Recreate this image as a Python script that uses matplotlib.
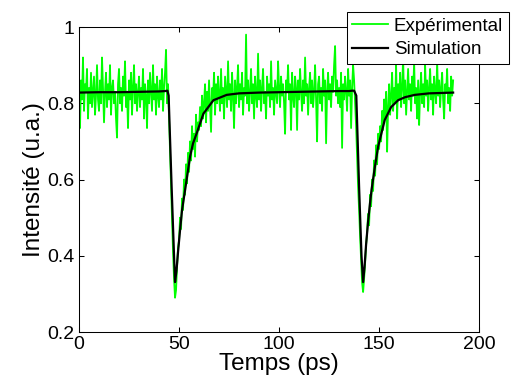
import numpy as np
import matplotlib
matplotlib.use("Agg")
import matplotlib.pyplot as plt

plt.rcParams['font.family'] = ['Liberation Sans', 'DejaVu Sans']

# measured signal, one sample every 0.5 ps starting at 0 ps
dt = 0.5
experimental = [
    0.80, 0.735, 0.86, 0.81, 0.92, 0.78, 0.85, 0.83, 0.89, 0.76, 0.84, 0.80, 0.88, 0.79, 0.83, 0.87, 0.77, 0.82, 0.90, 0.81,
    0.78, 0.86, 0.80, 0.92, 0.84, 0.75, 0.83, 0.88, 0.79, 0.85, 0.81, 0.90, 0.77, 0.84, 0.86, 0.80, 0.83, 0.76, 0.71, 0.85,
    0.89, 0.80, 0.84, 0.78, 0.87, 0.82, 0.91, 0.79, 0.83, 0.735, 0.86, 0.81, 0.88, 0.77, 0.84, 0.90, 0.80, 0.85, 0.78, 0.83,
    0.87, 0.79, 0.84, 0.81, 0.89, 0.76, 0.85, 0.82, 0.735, 0.86, 0.80, 0.88, 0.83, 0.78, 0.90, 0.81, 0.85, 0.77, 0.87, 0.82,
    0.79, 0.86, 0.81, 0.89, 0.78, 0.84, 0.88, 0.94, 0.80, 0.85, 0.76, 0.66, 0.57, 0.49, 0.41, 0.34, 0.29, 0.31, 0.37, 0.42,
    0.44, 0.50, 0.47, 0.55, 0.52, 0.60, 0.56, 0.64, 0.59, 0.67, 0.62, 0.70, 0.65, 0.74, 0.68, 0.72, 0.66, 0.77, 0.70, 0.75,
    0.73, 0.79, 0.74, 0.82, 0.76, 0.80, 0.85, 0.75, 0.83, 0.78, 0.86, 0.79, 0.725, 0.84, 0.81, 0.88, 0.77, 0.85, 0.80, 0.87,
    0.82, 0.78, 0.89, 0.80, 0.84, 0.76, 0.87, 0.83, 0.79, 0.91, 0.81, 0.85, 0.78, 0.88, 0.82, 0.735, 0.86, 0.80, 0.84, 0.90,
    0.79, 0.85, 0.81, 0.88, 0.77, 0.84, 0.82, 0.98, 0.80, 0.86, 0.78, 0.83, 0.89, 0.80, 0.85, 0.76, 0.87, 0.82, 0.79, 0.93,
    0.81, 0.86, 0.78, 0.84, 0.89, 0.80, 0.83, 0.76, 0.87, 0.82, 0.85, 0.79, 0.91, 0.81, 0.84, 0.77, 0.86, 0.83, 0.80, 0.91,
    0.84, 0.79, 0.87, 0.82, 0.85, 0.80, 0.72, 0.86, 0.83, 0.90, 0.81, 0.85, 0.73, 0.88, 0.82, 0.79, 0.87, 0.84, 0.73, 0.86,
    0.81, 0.89, 0.83, 0.78, 0.86, 0.80, 0.92, 0.82, 0.85, 0.77, 0.84, 0.88, 0.80, 0.86, 0.79, 0.83, 0.90, 0.81, 0.70, 0.85,
    0.87, 0.80, 0.84, 0.78, 0.89, 0.82, 0.86, 0.695, 0.83, 0.88, 0.81, 0.85, 0.79, 0.87, 0.83, 0.90, 0.95, 0.82, 0.86, 0.80,
    0.84, 0.79, 0.88, 0.683, 0.85, 0.81, 0.87, 0.83, 0.78, 0.89, 0.82, 0.86, 0.735, 0.84, 0.90, 0.86, 0.80, 0.74, 0.66, 0.58,
    0.52, 0.45, 0.39, 0.33, 0.305, 0.34, 0.38, 0.43, 0.46, 0.51, 0.48, 0.56, 0.53, 0.60, 0.57, 0.65, 0.61, 0.69, 0.64, 0.72,
    0.68, 0.74, 0.70, 0.78, 0.73, 0.81, 0.76, 0.83, 0.673, 0.79, 0.85, 0.77, 0.82, 0.88, 0.78, 0.84, 0.80, 0.90, 0.76, 0.85,
    0.81, 0.88, 0.79, 0.84, 0.92, 0.80, 0.86, 0.77, 0.83, 0.89, 0.81, 0.85, 0.78, 0.87, 0.82, 0.91, 0.80, 0.84, 0.76, 0.86,
    0.743, 0.83, 0.88, 0.80, 0.85, 0.79, 0.90, 0.82, 0.86, 0.78, 0.84, 0.89, 0.81, 0.85, 0.77, 0.87, 0.83, 0.80, 0.91, 0.82,
    0.86, 0.79, 0.84, 0.88, 0.81, 0.76, 0.85, 0.83, 0.89, 0.80, 0.84, 0.78, 0.87, 0.82, 0.86,
]

# simulation curve, points
sim_t = [0, 10, 20, 30, 40, 43, 44.2, 44.8, 46.3, 47.5, 48.0, 48.7, 49.5, 50.5, 51.5, 53, 55.5, 57, 58.8,
         62.2, 67.2, 73.8, 80, 90, 100, 110, 120, 130, 135, 136.5, 137.5, 138.6, 140.0, 141.2, 142.0,
         142.7, 143.5, 144.5, 145.4, 146.2, 147.8, 149.5, 152.8, 156, 159.5, 163, 167.8, 175, 187]
sim_y = [0.828, 0.829, 0.829, 0.830, 0.831, 0.832, 0.833, 0.82, 0.58, 0.40, 0.331, 0.36, 0.41, 0.467, 0.52, 0.572, 0.66, 0.695, 0.721,
         0.773, 0.808, 0.822, 0.826, 0.828, 0.829, 0.830, 0.831, 0.832, 0.832, 0.833, 0.833, 0.82, 0.58, 0.40, 0.331,
         0.37, 0.43, 0.49, 0.535, 0.572, 0.63, 0.686, 0.756, 0.79, 0.808, 0.816, 0.822, 0.826, 0.828]

xticks = [0, 50, 100, 150, 200]
yticks = [0.2, 0.4, 0.6, 0.8, 1.0]
ytick_labels = ["0.2", "0.4", "0.6", "0.8", "1"]

t_exp = np.arange(len(experimental)) * dt

fig = plt.figure(figsize=(5.13, 3.83), dpi=100)
ax = fig.add_axes([0.154, 0.133, 0.780, 0.7965])

ax.plot(t_exp, experimental, color="#00ff00", lw=1.3, label="Expérimental")
ax.plot(sim_t, sim_y, color="black", lw=1.6, label="Simulation")

ax.set_xlim(0, 200)
ax.set_ylim(0.2, 1.0)
ax.set_xticks(xticks)
ax.set_xticklabels([str(x) for x in xticks])
ax.set_yticks(yticks)
ax.set_yticklabels(ytick_labels)
ax.tick_params(direction="in", top=True, right=True, length=3.5, width=0.75, labelsize=14, pad=3)
for s in ax.spines.values():
    s.set_linewidth(0.75)

ax.set_xlabel("Temps (ps)", fontsize=17.5, labelpad=0)
ax.set_ylabel("Intensité (u.a.)", fontsize=17.5, labelpad=2)

leg = fig.legend(loc="upper left", bbox_to_anchor=(0.676, 0.969), fontsize=13.5,
                 frameon=True, fancybox=False, edgecolor="black", framealpha=1,
                 handlelength=1.9, handletextpad=0.3, borderpad=0.3, labelspacing=0.35,
                 borderaxespad=0)
leg.get_frame().set_linewidth(0.75)

fig.savefig("out.png", dpi=100)
